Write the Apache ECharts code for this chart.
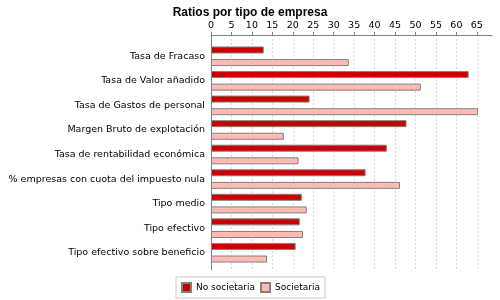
<!DOCTYPE html>
<html>
<head>
<meta charset="utf-8">
<script src="https://cdn.jsdelivr.net/npm/echarts@6/dist/echarts.min.js"></script>
<style>
  html, body { margin: 0; padding: 0; background: #fff; }
  #chart { width: 500px; height: 300px; }
</style>
</head>
<body>
<div id="chart"></div>
<script>
const categories = [
  'Tasa de Fracaso',
  'Tasa de Valor añadido',
  'Tasa de Gastos de personal',
  'Margen Bruto de explotación',
  'Tasa de rentabilidad económica',
  '% empresas con cuota del impuesto nula',
  'Tipo medio',
  'Tipo efectivo',
  'Tipo efectivo sobre beneficio'
];
const noSocietaria = [12.9, 63.0, 24.1, 47.8, 43.0, 37.8, 22.2, 21.7, 20.7];
const societaria = [33.7, 51.3, 65.3, 17.8, 21.4, 46.2, 23.4, 22.5, 13.7];
const tickValues = [0, 5, 10, 15, 20, 25, 30, 35, 40, 45, 50, 55, 60, 65];

function creatChart(){
  const chart = echarts.init(document.getElementById('chart'));
  const font = 'DejaVu Sans';
  const chart_option = {
    animation: false,
    title: {
      text: 'Ratios por tipo de empresa',
      left: 'center',
      top: 2,
      textStyle: { fontFamily: 'Liberation Sans', fontSize: 12, fontWeight: 'bold', color: '#000' }
    },
    legend: {
      left: 176,
      top: 277,
      padding: [5, 5],
      itemGap: 5,
      itemWidth: 9,
      itemHeight: 9,
      icon: 'rect',
      borderColor: '#c8c8c8',
      borderWidth: 1,
      textStyle: { fontFamily: font, fontSize: 9, color: '#000' },
      data: ['No societaria', 'Societaria']
    },
    grid: [
      { left: 211, right: 8, top: 35, bottom: 30 }, // fondo con ejes
      { left: 211, right: 8, top: 44, height: 221 }  // barras
    ],
    xAxis: [
      {
        gridIndex: 0,
        type: 'value',
        position: 'top',
        min: 0,
        max: 68.7,
        interval: 5,
        axisLine: { show: true, lineStyle: { color: '#808080' } },
        axisTick: { show: true, length: 3, inside: false, customValues: tickValues, lineStyle: { color: '#808080' } },
        axisLabel: { margin: 4, customValues: tickValues, fontFamily: font, fontSize: 9.5, color: '#000' },
        splitLine: { show: true, lineStyle: { color: '#d8d8d8', type: [2, 2] } }
      },
      {
        gridIndex: 1,
        type: 'value',
        min: 0,
        max: 68.7,
        show: false
      }
    ],
    yAxis: [
      {
        gridIndex: 0,
        type: 'category',
        data: [''],
        axisLine: { show: true, lineStyle: { color: '#808080' } },
        axisTick: { show: false },
        axisLabel: { show: false }
      },
      {
        gridIndex: 1,
        type: 'category',
        inverse: true,
        data: categories,
        axisLine: { show: false },
        axisTick: { show: false },
        axisLabel: { margin: 6, fontFamily: font, fontSize: 9.5, color: '#000' }
      }
    ],
    series: [
      {
        name: 'No societaria',
        type: 'bar',
        xAxisIndex: 1,
        yAxisIndex: 1,
        data: noSocietaria,
        barWidth: 7,
        barGap: '80%',
        itemStyle: { color: '#cc0000', borderColor: '#808080', borderWidth: 1 }
      },
      {
        name: 'Societaria',
        type: 'bar',
        xAxisIndex: 1,
        yAxisIndex: 1,
        data: societaria,
        barWidth: 7,
        barGap: '80%',
        itemStyle: { color: '#ffbbb3', borderColor: '#808080', borderWidth: 1 }
      }
    ]
  };
  chart.setOption(chart_option);
}
creatChart();
</script>
</body>
</html>
